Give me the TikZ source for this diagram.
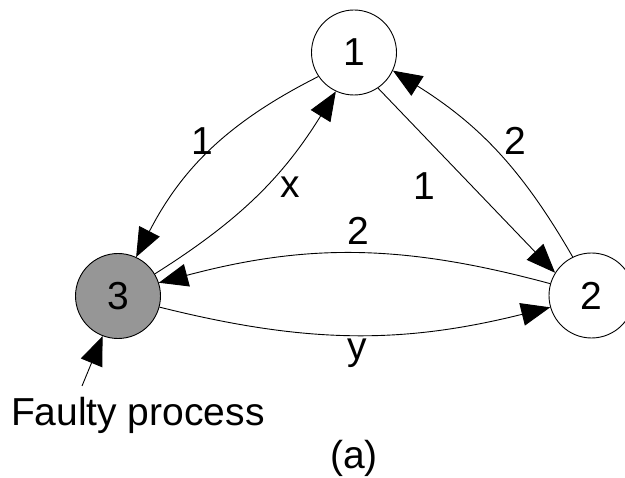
\documentclass[tikz,border=0pt]{standalone}
\usepackage{fontspec}
\setmainfont{Liberation Sans}
\usetikzlibrary{arrows.meta}
\definecolor{faultgray}{RGB}{150,150,150}
\begin{document}
\begin{tikzpicture}[x=1pt,y=1pt,
  proc/.style={circle,draw=black,line width=0.9pt,minimum size=85pt,inner sep=0pt,font=\fontsize{39}{47}\selectfont},
  lbl/.style={inner sep=0pt,font=\fontsize{39}{47}\selectfont},
  msg/.style={draw=black,line width=0.9pt,-{Triangle[length=29pt,width=23pt]}},
]
\useasboundingbox (0,0) rectangle (625,-478);
\node[proc] (n1) at (354,-52.5) {1};
\node[proc] (n2) at (591.5,-295.5) {2};
\node[proc,fill=faultgray] (n3) at (118,-296) {3};
\draw[msg] (n1.214) to[bend right=18] (n3.65);
\draw[msg] (n3.31) to[bend right=13] (n1.245);
\draw[msg] (n1.304) to (n2.148);
\draw[msg] (n2.116) to[bend right=14] (n1.335);
\draw[msg] (n2.164) to[bend right=15] (n3.18);
\draw[msg] (n3.345) to[bend right=14] (n2.196);
\node[lbl] (lA) at (202,-141.5) {1};
\node[lbl] (lX) at (290,-187.5) {x};
\node[lbl] (lB) at (424.5,-186) {1};
\node[lbl] (lC) at (515,-141) {2};
\node[lbl] (lD) at (358.5,-231) {2};
\node[lbl] (lY) at (357,-353.5) {y};
\node[lbl,anchor=base west] (faulty) at (10.8,-426) {Faulty process};
\node[lbl,anchor=base] (cap) at (354,-468.8) {(a)};
\coordinate (fstart) at (82,-386);
\draw[msg] (fstart) -- (n3.249);
\end{tikzpicture}
\end{document}
